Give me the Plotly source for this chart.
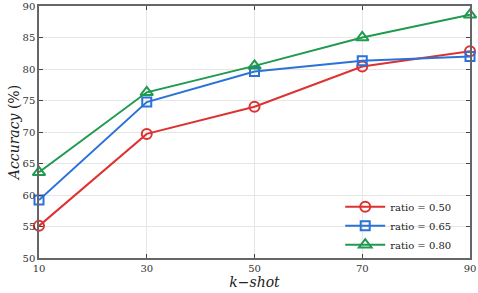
import plotly.graph_objects as go

k_shot = [10, 30, 50, 70, 90]
acc_050 = [55.1, 69.7, 74.0, 80.4, 82.8]
acc_065 = [59.2, 74.75, 79.6, 81.3, 82.0]
acc_080 = [63.6, 76.3, 80.5, 85.0, 88.6]
series_names = ["ratio = 0.50", "ratio = 0.65", "ratio = 0.80"]
y_ticks = [50, 55, 60, 65, 70, 75, 80, 85, 90]

colors = ["#dc3232", "#2a72d8", "#1f9a4f"]
symbols = ["circle-open", "square-open", "triangle-up-open"]
sizes = [10, 9, 11]

FONT = "DejaVu Serif"

fig = go.Figure()
for vals, name, c, s, sz in zip([acc_050, acc_065, acc_080], series_names, colors, symbols, sizes):
    fig.add_trace(go.Scatter(
        x=k_shot, y=vals, name=name, mode="lines+markers",
        line=dict(color=c, width=2),
        marker=dict(symbol=s, size=sz, color=c, line=dict(width=2, color=c)),
        cliponaxis=False,
    ))

fig.update_layout(
    width=478, height=293,
    margin=dict(l=39, r=8, t=6, b=35),
    paper_bgcolor="white", plot_bgcolor="white",
    font=dict(family=FONT, size=10, color="#333"),
    legend=dict(x=0.968, y=-0.005, xanchor="right", yanchor="bottom",
                bgcolor="rgba(255,255,255,0)", font=dict(size=10, family=FONT, color="#222"),
                itemwidth=40, tracegroupgap=0),
    showlegend=True,
)
fig.update_xaxes(
    range=[10, 90], tickvals=k_shot, ticks="inside", ticklen=4, tickcolor="#444",
    showline=True, linecolor="#666", linewidth=1.5, mirror="ticks",
    showgrid=True, gridcolor="#e6e6e6", gridwidth=1, zeroline=False, automargin=False,
    title=dict(text="<i>k</i>−<i>shot</i>", font=dict(size=14, family=FONT, color="#222"), standoff=2),
    tickfont=dict(size=10, family=FONT, color="#333"),
)
fig.update_yaxes(
    range=[50, 90], tickvals=y_ticks, ticks="inside", ticklen=4, tickcolor="#444",
    showline=True, linecolor="#666", linewidth=1.5, mirror="ticks",
    showgrid=True, gridcolor="#e6e6e6", gridwidth=1, zeroline=False, automargin=False,
    title=dict(text="<i>Accuracy</i> (%)", font=dict(size=14, family=FONT, color="#222"), standoff=0),
    tickfont=dict(size=10, family=FONT, color="#333"),
)

fig.write_html("out.html", config={"displayModeBar": False},
               post_script="document.body.style.margin='0';")
